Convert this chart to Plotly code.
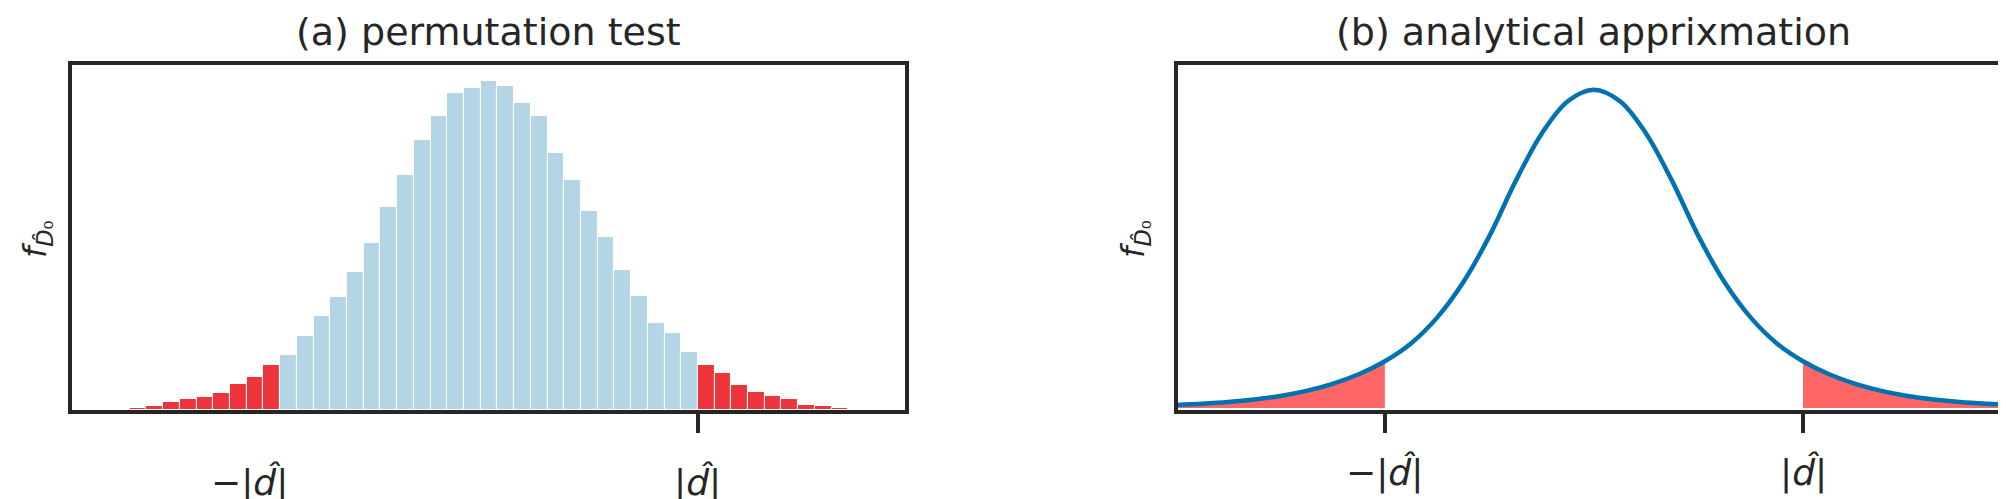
import plotly.graph_objects as go

# ---------------- data ----------------
# (a) permutation-test histogram: 45 bins, counts
bin_index = list(range(45))
bin_counts = [3, 6, 12, 23, 32, 38, 50, 77, 98, 134,
              164, 221, 284, 341, 416, 503, 611, 707, 812, 884,
              953, 968, 989, 974, 923, 884, 773, 692, 599, 521,
              422, 344, 263, 230, 173, 134, 110, 74, 53, 41,
              32, 14, 11, 5, 3]
left_cut = 10      # bins below this are in the rejection region
right_cut = 35     # bins from this on are in the rejection region
hist_tick_vals = [35]
hist_label_pos = [8.2, 35.0]

# (b) analytical approximation: density (relative to peak)
curve_x = [-4.0, -3.75, -3.5, -3.25, -3.0, -2.75, -2.5, -2.25, -2.0, -1.75, -1.5,
           -1.25, -1.0, -0.75, -0.5, -0.25, 0.0, 0.25, 0.5, 0.75, 1.0, 1.25,
           1.5, 1.75, 2.0, 2.25, 2.5, 2.75, 3.0, 3.25, 3.5, 3.75, 4.0]
curve_y = [0.0095, 0.0135, 0.019, 0.027, 0.038, 0.054, 0.076, 0.106, 0.147, 0.203, 0.284,
           0.395, 0.540, 0.712, 0.862, 0.964, 1.000, 0.964, 0.862, 0.712, 0.540, 0.395,
           0.284, 0.203, 0.147, 0.106, 0.076, 0.054, 0.038, 0.027, 0.019, 0.0135, 0.0095]
crit = 2.0
tick_labels = ["−|<i>d̂</i>|", "|<i>d̂</i>|"]
titles = ["(a) permutation test", "(b) analytical apprixmation"]
ylabel = "<i>f</i><sub><i>D̂</i>₀</sub>"

# ---------------- style ----------------
W, H = 2006, 499
DARK = "#262626"
BLUE_BAR = "rgb(179,213,230)"
RED_BAR = "rgb(236,52,58)"
CURVE = "#0072b2"
FILL = "rgb(255,102,102)"
FONT = "DejaVu Sans"

def px_x(p):
    return p / W

def px_y(p):
    return (H - p) / H

fig = go.Figure()

bar_colors = [RED_BAR if (i < left_cut or i >= right_cut) else BLUE_BAR for i in bin_index]
fig.add_trace(go.Bar(
    x=[i + 0.5 for i in bin_index], y=bin_counts, width=1.0,
    marker=dict(color=bar_colors, line=dict(color="white", width=1)),
    xaxis="x", yaxis="y", showlegend=False))

lx = [x for x in curve_x if x <= -crit]
ly = [y for x, y in zip(curve_x, curve_y) if x <= -crit]
rx = [x for x in curve_x if x >= crit]
ry = [y for x, y in zip(curve_x, curve_y) if x >= crit]
for xs, ys in ((lx, ly), (rx, ry)):
    fig.add_trace(go.Scatter(x=xs, y=ys, mode="lines", fill="tozeroy",
                             fillcolor=FILL, line=dict(width=0, shape="spline"),
                             xaxis="x2", yaxis="y2", showlegend=False))
fig.add_trace(go.Scatter(x=curve_x, y=curve_y, mode="lines",
                         line=dict(color=CURVE, width=4.5, shape="spline"),
                         xaxis="x2", yaxis="y2", showlegend=False))

# axes geometry (inner edges of frame lines)
yb, yt = 402, 57
ax_common = dict(showgrid=False, zeroline=False, showline=True, mirror=True,
                 linecolor=DARK, linewidth=4, ticklen=19,
                 tickwidth=3.5, tickcolor=DARK, showticklabels=False)
bin_px = 16.73
hist_x0 = 105
fig.update_layout(
    width=W, height=H, margin=dict(l=0, r=0, t=0, b=0),
    paper_bgcolor="white", plot_bgcolor="white", bargap=0,
    font=dict(family=FONT, color=DARK),
    xaxis=dict(domain=[px_x(64), px_x(898)],
               range=[(64 - hist_x0) / bin_px, (898 - hist_x0) / bin_px],
               tickvals=hist_tick_vals, ticks="outside", **ax_common),
    yaxis=dict(domain=[px_y(yb), px_y(yt)], range=[0, 1037], ticks="", **ax_common),
    xaxis2=dict(domain=[px_x(1171), px_x(2004)], range=[-3.98, 3.98],
                tickvals=[-crit, crit], anchor="y2", ticks="outside", **ax_common),
    yaxis2=dict(domain=[px_y(yb), px_y(yt)], range=[-2 / 322, 347 / 322], anchor="x2",
                ticks="", **ax_common),
)

# titles
for xc, t in ((481, titles[0]), (1587.5, titles[1])):
    fig.add_annotation(text=t, xref="paper", yref="paper", x=px_x(xc), y=px_y(24),
                       xanchor="center", yanchor="middle", showarrow=False,
                       font=dict(size=38, family=FONT, color=DARK))
# y labels
for xc in (29, 1128):
    fig.add_annotation(text=ylabel, xref="paper", yref="paper", x=px_x(xc), y=px_y(231),
                       xanchor="center", yanchor="middle", showarrow=False, textangle=-90,
                       font=dict(size=32, family=FONT, color=DARK))
# tick labels
for pos, lab in zip(hist_label_pos, tick_labels):
    fig.add_annotation(text=lab, xref="x", yref="paper", x=pos, y=px_y(474),
                       xanchor="center", yanchor="middle", showarrow=False,
                       font=dict(size=36, family=FONT, color=DARK))
for pos, lab in zip([-crit, crit], tick_labels):
    fig.add_annotation(text=lab, xref="x2", yref="paper", x=pos, y=px_y(464),
                       xanchor="center", yanchor="middle", showarrow=False,
                       font=dict(size=36, family=FONT, color=DARK))

fig.write_html("out.html")
